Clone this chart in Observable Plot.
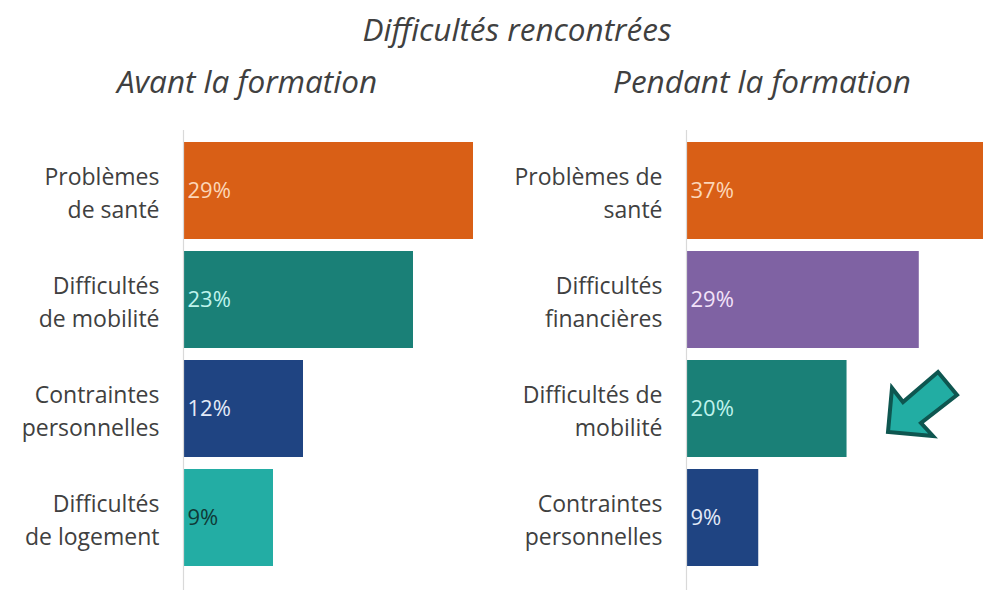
<!DOCTYPE html>
<html>
<head>
<meta charset="utf-8">
<script src="https://cdn.jsdelivr.net/npm/d3@7"></script>
<script src="https://cdn.jsdelivr.net/npm/@observablehq/plot@0.6"></script>
<style>
  html, body { margin: 0; padding: 0; background: #fff; }
  #wrap { position: relative; width: 985px; height: 591px; overflow: hidden; font-family: "Open Sans", Lato, sans-serif; color: #404040; }
  .t { position: absolute; font-style: italic; white-space: nowrap; transform: translate(-50%, -50%); line-height: 1; }
  .p { position: absolute; top: 130px; }
  #arrow { position: absolute; left: 0; top: 0; }
</style>
</head>
<body>
<div id="wrap">
  <div class="t" style="left:517px; top:29px; font-size:31.5px;">Difficultés rencontrées</div>
  <div class="t" style="left:247px; top:81px; font-size:31.5px;">Avant la formation</div>
  <div class="t" style="left:762px; top:81px; font-size:31.5px;">Pendant la formation</div>
  <div class="p" id="left" style="left:0px;"></div>
  <div class="p" id="right" style="left:490px;"></div>
  <svg id="arrow" width="985" height="591"><polygon points="888,432 892,388 903,402 938,372 957,395 921,423 933,436" fill="#22ADA3" stroke="#0E5650" stroke-width="4" stroke-linejoin="miter"/></svg>
</div>
<script>
// Avant la formation
const avantLabels = ["Problèmes\nde santé", "Difficultés\nde mobilité", "Contraintes\npersonnelles", "Difficultés\nde logement"];
const avantValues = [29, 23, 12, 9];
const avantColors = ["#D95F16", "#1A8077", "#1F4482", "#23ADA4"];
const avantTextColors = ["#FCD6B8", "#BFF3EC", "#E3EAF7", "#0F3A37"];

// Pendant la formation
const pendantLabels = ["Problèmes de\nsanté", "Difficultés\nfinancières", "Difficultés de\nmobilité", "Contraintes\npersonnelles"];
const pendantValues = [37, 29, 20, 9];
const pendantColors = ["#D95F16", "#7F62A3", "#1A8077", "#1F4482"];
const pendantTextColors = ["#FCD6B8", "#F3E2FA", "#BFF3EC", "#E3EAF7"];

function panel(labels, values, colors, textColors, opts) {
  const data = labels.map((l, i) => ({label: l, value: values[i], color: colors[i], tc: textColors[i]}));
  return Plot.plot({
    width: opts.width,
    height: 460,
    marginLeft: opts.marginLeft,
    marginRight: opts.marginRight,
    marginTop: 0,
    marginBottom: 0,
    style: {fontFamily: "'Open Sans', Lato, sans-serif", background: "transparent"},
    x: {domain: [0, opts.max], axis: null},
    y: {domain: labels, range: [10, 438], paddingInner: 0.109, paddingOuter: 0, label: null},
    marks: [
      Plot.barX(data, {x: "value", y: "label", fill: "color"}),
      Plot.ruleX([0], {stroke: "#d9d9d9", strokeWidth: 1.2}),
      Plot.axisY({tickSize: 0, tickPadding: 24, fontSize: 23, lineHeight: 1.45, fill: "#404040", label: null}),
      Plot.text(data, {x: 0, y: "label", text: d => d.value + "%", textAnchor: "start", dx: 4, fontSize: 22, fill: "tc"})
    ]
  });
}

document.getElementById("left").append(panel(avantLabels, avantValues, avantColors, avantTextColors, {width: 490, marginLeft: 183, marginRight: 17, max: 29}));
document.getElementById("right").append(panel(pendantLabels, pendantValues, pendantColors, pendantTextColors, {width: 495, marginLeft: 196, marginRight: 2, max: 37}));
</script>
</body>
</html>
